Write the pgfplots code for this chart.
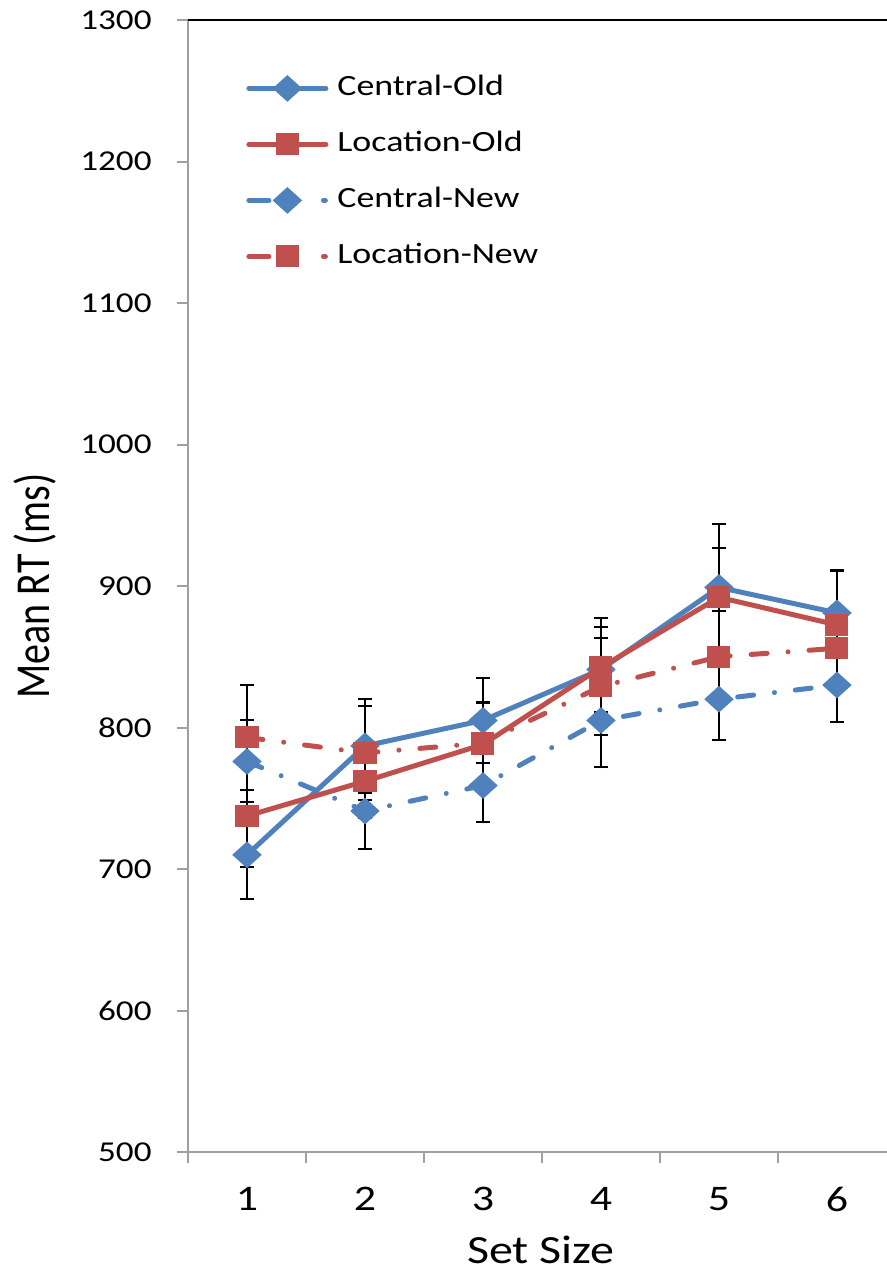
\documentclass[border=0pt]{standalone}
\usepackage{fontspec}
\setmainfont{Carlito}
\usepackage{pgfplots}
\pgfplotsset{compat=1.18}
\definecolor{cblue}{HTML}{4F81BD}
\definecolor{cred}{HTML}{C0504D}
\definecolor{agray}{HTML}{A0A0A0}
\pgfplotsset{
  newlegend/.style={legend image code/.code={
    \draw[##1, solid] (1.25pt,0pt) -- (11.25pt,0pt);
    \draw[##1, solid] (38.5pt,0pt) -- (39.5pt,0pt);
    \draw[##1] plot coordinates {(20.5pt,0pt)};}},
}
\begin{document}
\begin{tikzpicture}
\begin{axis}[
  at={(94pt,61.5pt)}, anchor=south west,
  scale only axis, width=349.5pt, height=566pt,
  xmin=0.5, xmax=6.424, ymin=500, ymax=1300,
  clip=false,
  axis x line*=bottom, axis y line*=left,
  axis line style={-, agray, line width=1pt},
  xtick={1,...,6}, minor xtick={0.5,1.5,...,6.5},
  ytick={500,600,...,1300},
  tick align=outside, major tick length=5.5pt, minor tick length=5.5pt,
  tick style={agray, line width=1pt},
  major x tick style={draw=none},
  /pgf/number format/assume math mode=true,
  yticklabel={\scalebox{1.22}[1]{\pgfmathprintnumber[fixed,1000 sep={}]{\tick}}},
  xticklabel={\scalebox{1.22}[1]{\pgfmathprintnumber{\tick}}},
  yticklabel style={font=\fontsize{14.4}{17}\selectfont, inner sep=0pt, anchor=east, xshift=-12.5pt},
  xticklabel style={font=\fontsize{18}{21}\selectfont, inner sep=0pt, anchor=north, yshift=-12pt},
  xlabel={\scalebox{1.2}[1]{Set Size}},
  ylabel={\scalebox{1}[1.22]{Mean RT (ms)}},
  xlabel style={font=\fontsize{20}{24}\selectfont, at={(axis description cs:0.505,-0.0866)}, anchor=center, inner sep=0pt},
  ylabel style={font=\fontsize{20}{24}\selectfont, at={(axis description cs:-0.219,0.5)}, anchor=center, inner sep=0pt},
  legend style={at={(0,1)}, anchor=north west, xshift=29pt, yshift=-27.5pt, draw=none, fill=none, inner sep=0pt, row sep=15pt,
    font=\fontsize{14.7}{17}\selectfont, nodes={inner sep=0pt, text height=10pt, text depth=3pt},
    /tikz/every odd column/.append style={column sep=4.5pt}},
  legend cell align=left,
  legend image code/.code={\draw[mark repeat=2,mark phase=2,line cap=round,#1] plot coordinates {(1.25pt,0pt) (20.5pt,0pt) (39.75pt,0pt)};},
  error bars/error bar style={black, line width=1pt, solid},
  error bars/error mark options={black, rotate=90, mark size=3.5pt, line width=1pt, solid},
]
\addplot[cblue, line width=2.5pt, mark=diamond*, mark size=5pt, mark options={solid, xscale=1.47},
  error bars/.cd, y dir=both, y explicit]
  table[x=x, y=y, y error=e] {
x y e
1 710 31
2 787 33
3 805 30
4 841 30
5 899 45
6 881 30
};
\addlegendentry{\scalebox{1.22}[1]{Central-Old}}
\addplot[cred, line width=2.5pt, mark=square*, mark size=4.25pt, mark options={solid, xscale=1.06},
  error bars/.cd, y dir=both, y explicit]
  table[x=x, y=y, y error=e] {
x y e
1 737.5 36
2 762 26
3 788 30
4 842.5 35
5 892 35
6 872.5 38
};
\addlegendentry{\scalebox{1.22}[1]{Location-Old}}
\addplot[cblue, line width=2.5pt, line cap=round, dash pattern=on 8pt off 10.5pt on 0.01pt off 10.5pt, mark=diamond*, mark size=5pt, mark options={solid, xscale=1.47},
  newlegend,
  error bars/.cd, y dir=both, y explicit]
  table[x=x, y=y, y error=e] {
x y e
1 776 29
2 741 27
3 759 26
4 805 33
5 820 29
6 830 26
};
\addlegendentry{\scalebox{1.22}[1]{Central-New}}
\addplot[cred, line width=2.5pt, line cap=round, dash pattern=on 8pt off 10.5pt on 0.01pt off 10.5pt, mark=square*, mark size=4.25pt, mark options={solid, xscale=1.06},
  newlegend,
  error bars/.cd, y dir=both, y explicit]
  table[x=x, y=y, y error=e] {
x y e
1 793 37
2 782 33
3 789 28
4 829 34
5 850 32
6 856 29
};
\addlegendentry{\scalebox{1.22}[1]{Location-New}}
\draw[black, line width=1pt] (rel axis cs:0,1) -- (rel axis cs:1,1);
\end{axis}
\pgfresetboundingbox
\path[use as bounding box] (0,0) rectangle (443.5pt,637.5pt);
\end{tikzpicture}
\end{document}
